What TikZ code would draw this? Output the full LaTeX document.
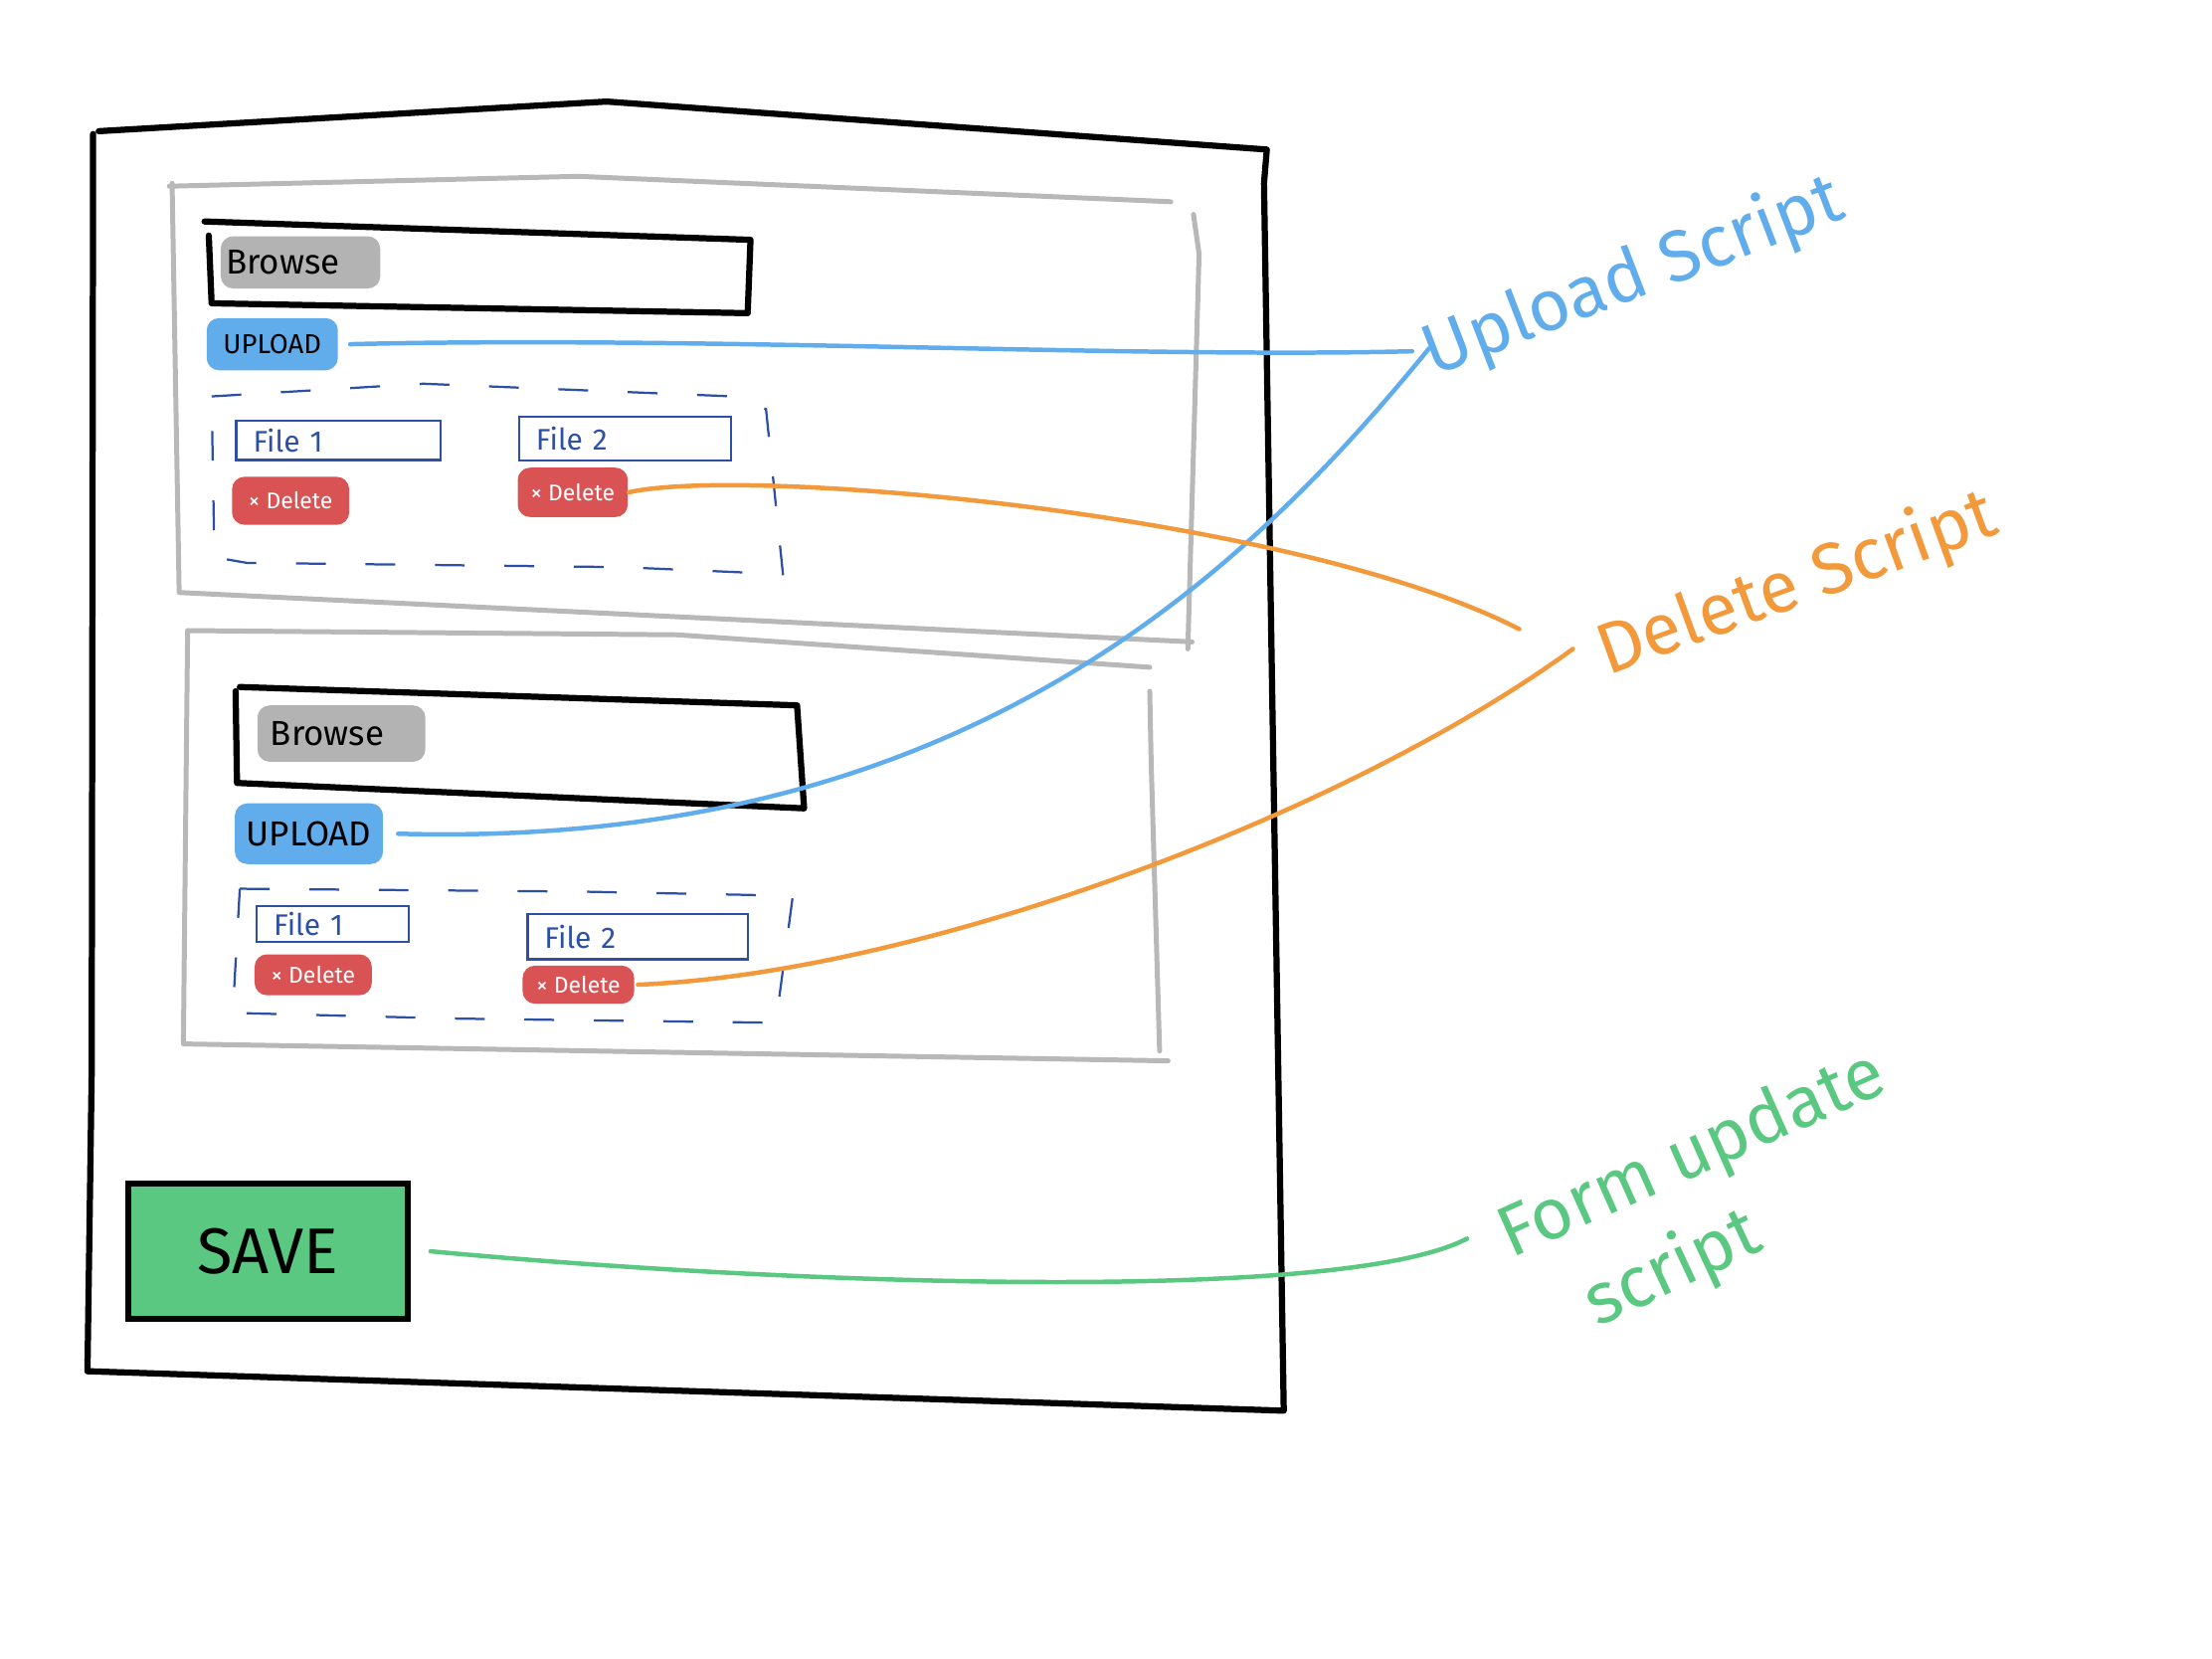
\documentclass[tikz,border=0pt]{standalone}
\usepackage{fontspec}
\setmainfont{Fira Sans}
\definecolor{ublue}{HTML}{61ADEC}
\definecolor{uorange}{HTML}{F2993B}
\definecolor{ugreen}{HTML}{5BC882}
\definecolor{ured}{HTML}{D95355}
\definecolor{ugray}{HTML}{B3B3B3}
\definecolor{panelgray}{HTML}{B8B8B8}
\definecolor{dblue}{HTML}{2D4FA6}
\tikzset{
  frameline/.style={line width=1.25pt, black, line join=round, line cap=round},
  panelline/.style={line width=1pt, panelgray, line join=round, line cap=round},
  dashbox/.style={line width=0.45pt, dblue, dash pattern=on 6pt off 8pt},
  btn/.style={rounded corners=2.5pt, inner sep=0pt, font=\fontsize{5.5}{6}\selectfont},
  graybtn/.style={btn, fill=ugray, text=black, font=\fontsize{7}{8}\selectfont},
  bluebtn/.style={btn, fill=ublue, text=black},
  redbtn/.style={btn, fill=ured, text=white, font=\fontsize{4.6}{5}\selectfont},
  filefield/.style={draw=dblue, line width=0.45pt, inner xsep=0.12cm, inner ysep=0pt, align=left, text=dblue, font=\fontsize{6}{7}\selectfont},
  conn/.style={line width=0.9pt, line cap=round},
  script/.style={font=\fontsize{14.5}{16}\selectfont, inner sep=0pt}
}
\begin{document}
\begin{tikzpicture}[x=0.01cm, y=-0.01cm]
\useasboundingbox (0,0) rectangle (1568,1176);

% outer frame
\draw[frameline] (70,93) -- (430,72) -- (898,106) -- (896,130) -- (910,1000) -- (62,972) -- (65,760) -- (66,95);
% gray panel 1
\draw[panelline] (120,132) -- (410,125) -- (830,143);
\draw[panelline] (122,130) -- (127,420) -- (845,455);
\draw[panelline] (846,152) -- (850,180) -- (842,460);
% gray panel 2
\draw[panelline] (133,447) -- (480,450) -- (815,473);
\draw[panelline] (133,447) -- (130,740) -- (828,752);
\draw[panelline] (815,490) -- (816,540) -- (822,745);

% black input boxes
\draw[frameline] (145,157) -- (532,170) -- (530,222) -- (150,215) -- (148,167);
\draw[frameline] (170,487) -- (565,500) -- (570,573) -- (168,555) -- (167,490);

% dashed boxes
\draw[dashbox] (150,281) -- (300,272) -- (520,281) -- (543,290) -- (555,407) -- (440,402) -- (175,399) -- (152,395) -- cycle;
\draw[dashbox] (170,630) -- (410,632) -- (562,635) -- (550,725) -- (320,722) -- (165,718) -- cycle;

% buttons
\node[graybtn, minimum width=1.13cm, minimum height=0.37cm] (browse1) at (213,186) {Browse\hspace*{0.25cm}};
\node[bluebtn, minimum width=0.93cm, minimum height=0.37cm] (upload1) at (193,244) {UPLOAD};
\node[filefield, text width=1.21cm, minimum height=0.28cm] (file1a) at (240,312) {File 1};
\node[filefield, text width=1.26cm, minimum height=0.31cm] (file2a) at (443,311) {File 2};
\node[redbtn, minimum width=0.83cm, minimum height=0.34cm] (del1) at (206,355) {× Delete};
\node[redbtn, minimum width=0.78cm, minimum height=0.35cm] (del2) at (406,349) {× Delete};

\node[graybtn, minimum width=1.19cm, minimum height=0.40cm] (browse2) at (242,520) {Browse\hspace*{0.2cm}};
\node[bluebtn, minimum width=1.05cm, minimum height=0.43cm, font=\fontsize{7}{8}\selectfont] (upload2) at (219,591) {UPLOAD};
\node[filefield, text width=0.84cm, minimum height=0.25cm] (file1b) at (236,655) {File 1};
\node[filefield, text width=1.32cm, minimum height=0.32cm] (file2b) at (452,664) {File 2};
\node[redbtn, minimum width=0.83cm, minimum height=0.29cm] (del3) at (222,691) {× Delete};
\node[redbtn, minimum width=0.79cm, minimum height=0.27cm] (del4) at (410,698) {× Delete};

% save
\node[fill=ugreen, draw=black, line width=1.25pt, minimum width=1.98cm, minimum height=0.96cm, inner sep=0pt, font=\fontsize{13}{15}\selectfont] (save) at (190,887) {SAVE};

% labels
\node[script, text=ublue, rotate=21] (uplab) at (1158,197) {Upload Script};
\node[script, text=uorange, rotate=20] (dellab) at (1274,415) {Delete Script};
\node[script, text=ugreen, rotate=24] (formlab) at (1200,820) {Form update};
\node[script, text=ugreen, rotate=25] (formlab2) at (1186,900) {script};

\coordinate (uj1) at (1001,249);
\coordinate (uj2) at (1013,247);
\coordinate (dj1) at (1077,446);
\coordinate (dj2) at (1115,460);
\coordinate (gj) at (1040,878);

% connectors
\draw[conn, ublue] ([xshift=0.08cm]upload1.east) .. controls (500,238) and (800,254) .. (uj1);
\draw[conn, ublue] ([xshift=0.1cm]upload2.east) .. controls (680,602) and (880,410) .. (uj2);
\draw[conn, uorange] (del2.east) .. controls (530,330) and (920,365) .. (dj1);
\draw[conn, uorange] ([xshift=0.02cm]del4.east) .. controls (650,690) and (950,580) .. (dj2);
\draw[conn, ugreen] ([xshift=0.14cm]save.east) .. controls (550,910) and (950,925) .. (gj);
\end{tikzpicture}
\end{document}
